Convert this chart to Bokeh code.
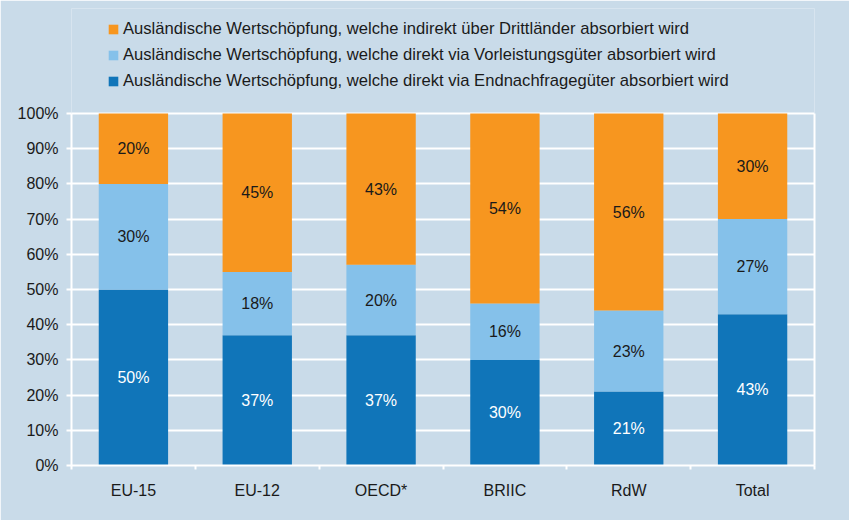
from bokeh.plotting import figure
from bokeh.models import (ColumnDataSource, FixedTicker, Legend, LegendItem, LinearAxis,
                          Range1d, LabelSet, PrintfTickFormatter)
from bokeh.core.properties import value
from bokeh.embed import file_html
from bokeh.resources import INLINE

categories = ["EU-15", "EU-12", "OECD*", "BRIIC", "RdW", "Total"]
endnachfrage = [50, 37, 37, 30, 21, 43]
vorleistung = [30, 18, 20, 16, 23, 27]
indirekt = [20, 45, 43, 54, 56, 30]
series_names = [
    "Ausländische Wertschöpfung, welche direkt via Endnachfragegüter absorbiert wird",
    "Ausländische Wertschöpfung, welche direkt via Vorleistungsgüter absorbiert wird",
    "Ausländische Wertschöpfung, welche indirekt über Drittländer absorbiert wird",
]
y_ticks = [0, 10, 20, 30, 40, 50, 60, 70, 80, 90, 100]

BG = "#c9dbe9"
COLORS = ["#1075b9", "#85c1ea", "#f7961f"]
TEXT_COLORS = ["white", "#1a1a1a", "#1a1a1a"]
FONT = "Liberation Sans"

W, H = 849, 520
LEFT, TOP_FRAME, TOP_100, BOTTOM, RIGHT = 71, 8, 113, 465, 814

n = len(categories)
xs = list(range(n))
y_top = 100 * (BOTTOM - TOP_FRAME) / (BOTTOM - TOP_100)   # headroom for the legend

p = figure(width=W, height=H, x_range=Range1d(-0.5, n - 0.5), y_range=Range1d(0, y_top),
           output_backend="svg", toolbar_location=None,
           background_fill_color=BG, border_fill_color=BG,
           min_border_left=LEFT, min_border_right=W - RIGHT, min_border_top=TOP_FRAME,
           min_border_bottom=H - BOTTOM)
p.outline_line_color = None

series = [endnachfrage, vorleistung, indirekt]
bottoms = [0] * n
renderers = []
for vals, col, tcol in zip(series, COLORS, TEXT_COLORS):
    tops = [b + v for b, v in zip(bottoms, vals)]
    mids = [(b + t) / 2 for b, t in zip(bottoms, tops)]
    src = ColumnDataSource(dict(x=xs, bottom=bottoms, top=tops, mid=mids,
                                label=[f"{v}%" for v in vals]))
    r = p.vbar(x="x", bottom="bottom", top="top", width=0.56, source=src,
               fill_color=col, line_color=None)
    renderers.append(r)
    p.add_layout(LabelSet(x="x", y="mid", text="label", source=src,
                          text_align="center", text_baseline="middle",
                          text_font=value(FONT), text_font_size="16px", text_color=tcol))
    bottoms = tops

# grid
p.xgrid.grid_line_color = None
p.ygrid.ticker = FixedTicker(ticks=y_ticks)
p.ygrid.grid_line_color = "white"
p.ygrid.grid_line_width = 2
p.ygrid.grid_line_alpha = 1

# y axis
p.yaxis.ticker = FixedTicker(ticks=y_ticks)
p.yaxis.bounds = (0, 100)
p.yaxis.formatter = PrintfTickFormatter(format="%d%%")
p.yaxis.axis_line_color = "white"
p.yaxis.axis_line_width = 2
p.yaxis.major_tick_line_color = "white"
p.yaxis.major_tick_line_width = 2
p.yaxis.major_tick_out = 5
p.yaxis.major_tick_in = 0
p.yaxis.minor_tick_line_color = None
p.yaxis.major_label_standoff = 8
p.yaxis.major_label_text_font = FONT
p.yaxis.major_label_text_font_size = "16px"
p.yaxis.major_label_text_color = "#1a1a1a"

# right border line (0..100 %)
ra = LinearAxis(ticker=FixedTicker(ticks=[]), bounds=(0, 100),
                axis_line_color="white", axis_line_width=2,
                major_tick_line_color=None, minor_tick_line_color=None,
                major_label_text_font_size="0px")
p.add_layout(ra, "right")

# x axis
p.xaxis.ticker = FixedTicker(ticks=xs, minor_ticks=[i - 0.5 for i in range(n + 1)])
p.xaxis.major_label_overrides = {i: c for i, c in enumerate(categories)}
p.xaxis.axis_line_color = "white"
p.xaxis.axis_line_width = 2
p.xaxis.major_tick_line_color = None
p.xaxis.major_tick_out = 0
p.xaxis.major_tick_in = 0
p.xaxis.minor_tick_line_color = "white"
p.xaxis.minor_tick_line_width = 2
p.xaxis.minor_tick_out = 4
p.xaxis.minor_tick_in = 0
p.xaxis.major_label_standoff = 12
p.xaxis.major_label_text_font = FONT
p.xaxis.major_label_text_font_size = "16px"
p.xaxis.major_label_text_color = "#1a1a1a"

items = [LegendItem(label=series_names[i], renderers=[renderers[i]]) for i in (2, 1, 0)]
legend = Legend(items=items, location=(36, 374), orientation="vertical",
                label_text_font=FONT, label_text_font_size="16.6px",
                label_text_color="#1a1a1a",
                glyph_width=12, glyph_height=12, label_standoff=4,
                label_height=20, spacing=6, padding=0, margin=0,
                border_line_color=None, background_fill_alpha=0)
p.add_layout(legend, "center")

open("out.html", "w").write(file_html(p, INLINE))
